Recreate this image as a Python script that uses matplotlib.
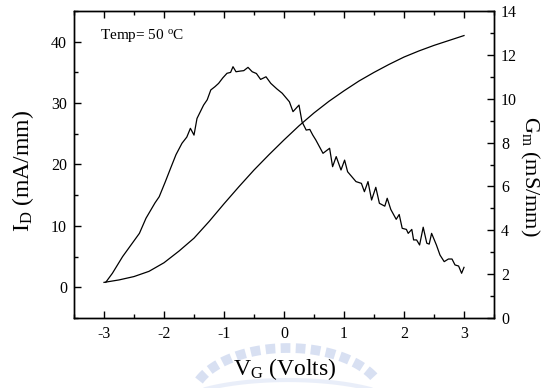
import numpy as np
import matplotlib
matplotlib.use("Agg")
import matplotlib.pyplot as plt
from matplotlib.lines import Line2D

plt.rcParams['font.family'] = ['Liberation Serif', 'DejaVu Serif']
plt.rcParams['mathtext.fontset'] = 'custom'
plt.rcParams['mathtext.rm'] = 'Liberation Serif'
plt.rcParams['mathtext.it'] = 'Liberation Serif:italic'

# Drain current I_D (mA/mm) vs gate voltage
vg_id = [-3.0, -2.75, -2.5, -2.25, -2.0, -1.75, -1.5, -1.25, -1.0, -0.75, -0.5, -0.25,
         0.0, 0.25, 0.5, 0.75, 1.0, 1.25, 1.5, 1.75, 2.0, 2.25, 2.5, 2.75, 3.0]
id_vals = [0.8, 1.2, 1.75, 2.6, 4.0, 5.9, 8.0, 10.7, 13.6, 16.4, 19.1, 21.6,
           24.0, 26.3, 28.4, 30.3, 32.0, 33.6, 35.0, 36.3, 37.5, 38.5, 39.4, 40.2, 41.0]

# Transconductance G_m (mS/mm) vs gate voltage
vg_gm = [-2.97, -2.86, -2.69, -2.41, -2.30, -2.15, -2.08, -1.98, -1.89, -1.80, -1.70,
         -1.62, -1.56, -1.50, -1.45, -1.34, -1.28, -1.22, -1.15, -1.09, -1.02, -0.95,
         -0.89, -0.85, -0.80, -0.73, -0.67, -0.60, -0.53, -0.46, -0.39, -0.30, -0.22,
         -0.12, -0.03, 0.09, 0.15, 0.25, 0.30, 0.37, 0.43, 0.48, 0.53, 0.65, 0.76,
         0.81, 0.87, 0.95, 1.01, 1.06, 1.20, 1.29, 1.34, 1.40, 1.46, 1.53, 1.59,
         1.68, 1.72, 1.78, 1.87, 1.92, 1.97, 2.04, 2.07, 2.13, 2.16, 2.21, 2.26,
         2.32, 2.38, 2.42, 2.46, 2.54, 2.60, 2.67, 2.74, 2.80, 2.85, 2.91, 2.96, 3.00]
gm_vals = [1.63, 2.04, 2.80, 3.86, 4.55, 5.25, 5.53, 6.20, 6.83, 7.45, 7.97,
           8.25, 8.65, 8.34, 9.10, 9.71, 9.95, 10.40, 10.55, 10.70, 10.95, 11.16,
           11.20, 11.46, 11.23, 11.26, 11.28, 11.43, 11.23, 11.15, 10.88, 11.00, 10.70,
           10.45, 10.25, 9.86, 9.41, 9.71, 8.95, 8.57, 8.60, 8.34, 8.12, 7.51, 7.74,
           6.90, 7.36, 6.75, 7.20, 6.67, 6.22, 6.14, 5.76, 6.22, 5.38, 5.96, 5.23,
           5.10, 5.46, 4.95, 4.50, 4.72, 4.09, 4.04, 3.86, 4.04, 3.56, 3.56, 3.33,
           4.14, 3.41, 3.37, 3.86, 3.33, 2.87, 2.57, 2.69, 2.69, 2.42, 2.37, 2.04, 2.31]

xticks = [-3, -2, -1, 0, 1, 2, 3]
yticks_left = [0, 10, 20, 30, 40]
yticks_right = [0, 2, 4, 6, 8, 10, 12, 14]

W, H = 546, 388
fig = plt.figure(figsize=(W/100, H/100), dpi=100)

def px(x, y):
    return x / W, 1 - y / H

# faint watermark arc behind the x label
t = np.linspace(np.radians(158), np.radians(22), 200)
cx, cy, rx, ry = 288, 400, 96, 52
wx = (cx + rx * np.cos(t)) / 100.0
wy = (H - (cy - ry * np.sin(t))) / 100.0
fig.add_artist(Line2D(wx, wy, transform=fig.dpi_scale_trans, color='#a9bbe4',
                      lw=7, alpha=0.45, dashes=(1.0, 0.55), solid_capstyle='butt',
                      zorder=0))
t2 = np.linspace(np.radians(150), np.radians(30), 200)
wx2 = (cx + 115 * np.cos(t2)) / 100.0
wy2 = (H - (cy + 10 - 30 * np.sin(t2))) / 100.0
fig.add_artist(Line2D(wx2, wy2, transform=fig.dpi_scale_trans, color='#d0daf2',
                      lw=3, alpha=0.45, zorder=0))

ax = fig.add_axes([74/W, 1-318/H, (494-74)/W, (318-11)/H])
ax.patch.set_alpha(0)
ax2 = ax.twinx()

ax.plot(vg_id, id_vals, color='black', lw=0.9)
ax2.plot(vg_gm, gm_vals, color='black', lw=0.9)

ax.set_xlim(-3.5, 3.5)
ax.set_ylim(-5, 45)
ax2.set_ylim(0, 14)
ax.set_xticks(xticks)
ax.set_xticklabels([str(v) for v in xticks])
ax.set_xticks(np.arange(-3.5, 3.51, 0.5), minor=True)
ax.set_yticks(yticks_left)
ax.set_yticklabels([str(v) for v in yticks_left])
ax.set_yticks(np.arange(-5, 45.1, 5), minor=True)
ax2.set_yticks(yticks_right)
ax2.set_yticklabels([str(v) for v in yticks_right])
ax2.set_yticks(np.arange(0, 14.1, 1), minor=True)

for a in (ax, ax2):
    for s in a.spines.values():
        s.set_linewidth(1.0)

ax.tick_params(axis='x', which='both', direction='in', top=True, bottom=True,
               labelsize=11.5, pad=6)
ax.tick_params(axis='y', which='both', direction='in', left=True, right=False,
               labelsize=11.5, pad=5)
ax.tick_params(which='major', length=5, width=1)
ax.tick_params(which='minor', length=3, width=1)
ax2.tick_params(axis='y', which='both', direction='in', right=True, labelsize=11.5, pad=5)
ax2.tick_params(which='major', length=5, width=1)
ax2.tick_params(which='minor', length=3, width=1)

fig.text(*px(285, 369), r'V$_\mathrm{G}$ (Volts)', fontsize=17, ha='center', va='center')
fig.text(*px(23, 171), r'I$_\mathrm{D}$ (mA/mm)', fontsize=17, ha='center', va='center',
         rotation=90)
fig.text(*px(530, 176), r'G$_\mathrm{m}$ (mS/mm)', fontsize=16, ha='center', va='center',
         rotation=-90)

fig.text(*px(100, 39), r'Temp= 50 $^\mathrm{o}$C', fontsize=11, ha='left', va='baseline')

fig.savefig('out.png', dpi=100)
